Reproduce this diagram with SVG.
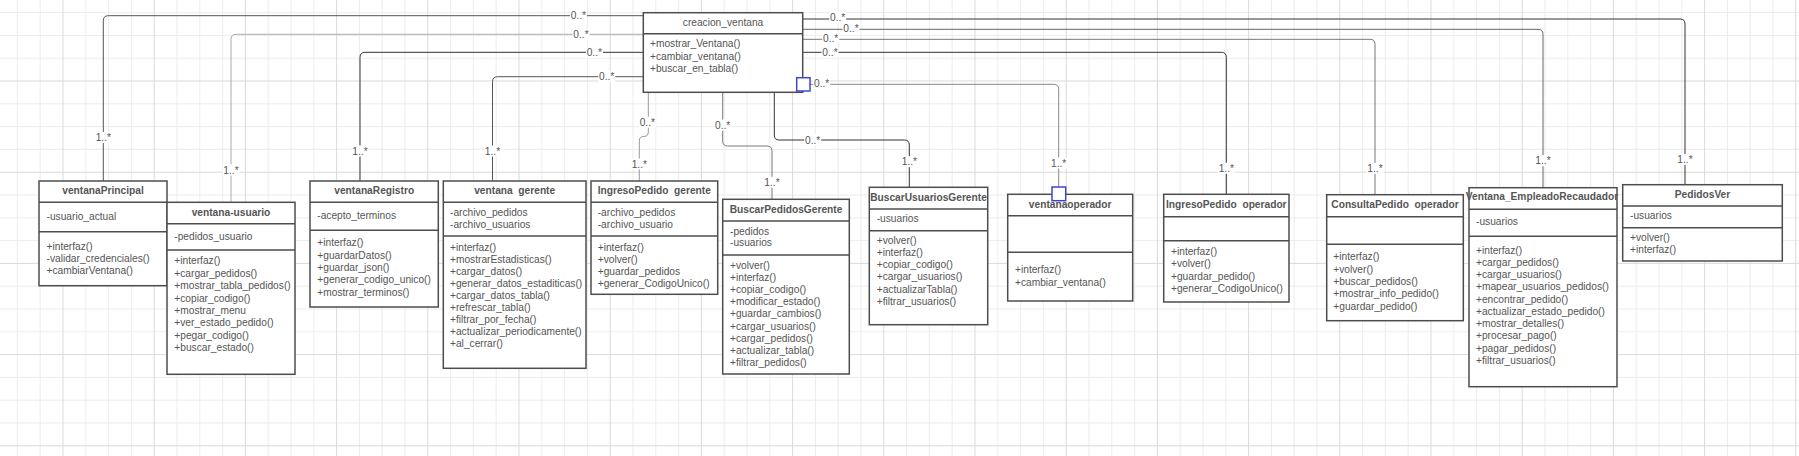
<svg xmlns="http://www.w3.org/2000/svg" width="1799" height="456" viewBox="0 0 1799 456">
<defs>
<pattern id="grid" x="62.5" y="80.5" width="91.2" height="91.2" patternUnits="userSpaceOnUse">
<path d="M23.3 0V91.2M46.1 0V91.2M68.9 0V91.2M0 23.3H91.2M0 46.1H91.2M0 68.9H91.2" stroke="#ececec" stroke-width="1" fill="none"/>
<path d="M0.5 0V91.2M0 0.5H91.2" stroke="#dadada" stroke-width="1" fill="none"/>
</pattern>
</defs>
<style>
.box{fill:#fff;stroke:#4d4d4d;stroke-width:1.5}
.sep{stroke:#4d4d4d;stroke-width:1.5;fill:none}
.t{font-family:"Liberation Sans",Arial,sans-serif;font-size:10.2px;fill:#555}
.b{font-weight:bold;text-anchor:middle}
.c{text-anchor:middle}
.ln{fill:none;stroke-width:1}
.lb{fill:#fff}
.sq{fill:#fff;stroke:#3c46cf;stroke-width:1.5}
</style>
<rect width="1799" height="456" fill="#fff"/>
<rect width="1799" height="456" fill="url(#grid)"/>

<g id="connectors">
<path class="ln" stroke="#555" d="M643.3,15.7 H108.3 Q103.3,15.7 103.3,20.7 V181"/>
<path class="ln" stroke="#aaa" d="M643.3,34.3 H236 Q231,34.3 231,39.3 V202.3"/>
<path class="ln" stroke="#333" d="M643.3,52.3 H365 Q360,52.3 360,57.3 V181"/>
<path class="ln" stroke="#555" d="M643.3,76.7 H497.5 Q492.5,76.7 492.5,81.7 V181"/>
<path class="ln" stroke="#333" d="M802.7,19 H1680 Q1685,19 1685,24 V184.7"/>
<path class="ln" stroke="#666" d="M802.7,29.3 H1538 Q1543,29.3 1543,34.3 V187.7"/>
<path class="ln" stroke="#777" d="M802.7,39.3 H1370 Q1375,39.3 1375,44.3 V194.7"/>
<path class="ln" stroke="#333" d="M802.7,52.3 H1221.3 Q1226.3,52.3 1226.3,57.3 V194.3"/>
<path class="ln" stroke="#888" d="M810,84.3 H1053.7 Q1058.7,84.3 1058.7,89.3 V186.7"/>
<path class="ln" stroke="#999" d="M648.3,92.3 V132 Q648.3,136.5 643.8,136.5 Q639.3,136.5 639.3,141 V181"/>
<path class="ln" stroke="#777" d="M722.7,92.3 V141 Q722.7,146 727.7,146 H767 Q772,146 772,151 V199.3"/>
<path class="ln" stroke="#333" d="M774.3,92.3 V135 Q774.3,140 779.3,140 H904.3 Q909.3,140 909.3,145 V187.3"/>
<g class="t c">
<rect class="lb" x="570" y="10" width="17" height="11"/><text x="578.3" y="19.3">0..*</text>
<rect class="lb" x="95" y="132" width="17" height="11"/><text x="103.3" y="141.1">1..*</text>
<rect class="lb" x="572.5" y="28.8" width="17" height="11"/><text x="581" y="37.9">0..*</text>
<rect class="lb" x="222.5" y="164.5" width="17" height="11"/><text x="231" y="173.6">1..*</text>
<rect class="lb" x="586" y="46.8" width="17" height="11"/><text x="594.3" y="55.9">0..*</text>
<rect class="lb" x="351.5" y="145.5" width="17" height="11"/><text x="360" y="154.6">1..*</text>
<rect class="lb" x="598.2" y="71.2" width="17" height="11"/><text x="606.7" y="80.3">0..*</text>
<rect class="lb" x="484" y="145.5" width="17" height="11"/><text x="492.5" y="154.6">1..*</text>
<rect class="lb" x="829.2" y="12" width="17" height="11"/><text x="837.7" y="21.1">0..*</text>
<rect class="lb" x="1676.5" y="154" width="17" height="11"/><text x="1685" y="163.1">1..*</text>
<rect class="lb" x="842.5" y="22.5" width="17" height="11"/><text x="851" y="31.6">0..*</text>
<rect class="lb" x="1534.5" y="155.2" width="17" height="11"/><text x="1543" y="164.3">1..*</text>
<rect class="lb" x="822.2" y="33" width="17" height="11"/><text x="830.7" y="42.1">0..*</text>
<rect class="lb" x="1366.5" y="162.8" width="17" height="11"/><text x="1375" y="171.9">1..*</text>
<rect class="lb" x="821.5" y="46.5" width="17" height="11"/><text x="830" y="55.6">0..*</text>
<rect class="lb" x="1217.8" y="162.8" width="17" height="11"/><text x="1226.3" y="171.9">1..*</text>
<rect class="lb" x="813.2" y="78" width="17" height="11"/><text x="821.7" y="87.1">0..*</text>
<rect class="lb" x="1050.2" y="157.5" width="17" height="11"/><text x="1058.7" y="166.6">1..*</text>
<rect class="lb" x="638.8" y="116.8" width="17" height="11"/><text x="647.3" y="125.9">0..*</text>
<rect class="lb" x="630.8" y="158.5" width="17" height="11"/><text x="639.3" y="167.6">1..*</text>
<rect class="lb" x="714.2" y="119.5" width="17" height="11"/><text x="722.7" y="128.6">0..*</text>
<rect class="lb" x="763.5" y="176.8" width="17" height="11"/><text x="772" y="185.9">1..*</text>
<rect class="lb" x="804.2" y="134.5" width="17" height="11"/><text x="812.7" y="143.6">0..*</text>
<rect class="lb" x="900.8" y="156.2" width="17" height="11"/><text x="909.3" y="165.3">1..*</text>
</g>
</g>

<g id="creacion_ventana">
<rect class="box" x="643.3" y="12.7" width="159.4" height="79.6"/>
<path class="sep" d="M643.3,33.7H802.7"/>
<text class="t c" x="723" y="26.3">creacion_ventana</text>
<text class="t" x="650"><tspan x="650" y="47.2">+mostrar_Ventana()</tspan><tspan x="650" y="59.8">+cambiar_ventana()</tspan><tspan x="650" y="72.4">+buscar_en_tabla()</tspan></text>
<rect class="sq" x="796.7" y="77.7" width="13.3" height="13.3"/>
</g>

<g id="ventanaPrincipal">
<rect class="box" x="39" y="181" width="128" height="104.7"/>
<path class="sep" d="M39,202.3H167M39,231.7H167"/>
<text class="t b" x="103" y="194.3">ventanaPrincipal</text>
<text class="t" x="46.5" y="219.5">-usuario_actual</text>
<text class="t"><tspan x="46.5" y="249.5">+interfaz()</tspan><tspan x="46.5" y="261.8">-validar_credenciales()</tspan><tspan x="46.5" y="274.1">+cambiarVentana()</tspan></text>
</g>

<g id="ventana-usuario">
<rect class="box" x="167" y="202.3" width="128" height="172"/>
<path class="sep" d="M167,223.7H295M167,250H295"/>
<text class="t b" x="231" y="216.3">ventana-usuario</text>
<text class="t" x="174.3" y="239.5">-pedidos_usuario</text>
<text class="t"><tspan x="174.3" y="264.2">+interfaz()</tspan><tspan x="174.3" y="276.6">+cargar_pedidos()</tspan><tspan x="174.3" y="289.1">+mostrar_tabla_pedidos()</tspan><tspan x="174.3" y="301.5">+copiar_codigo()</tspan><tspan x="174.3" y="313.9">+mostrar_menu</tspan><tspan x="174.3" y="326.4">+ver_estado_pedido()</tspan><tspan x="174.3" y="338.8">+pegar_codigo()</tspan><tspan x="174.3" y="351.2">+buscar_estado()</tspan></text>
</g>

<g id="ventanaRegistro">
<rect class="box" x="310" y="181" width="128.3" height="126"/>
<path class="sep" d="M310,202.3H438.3M310,230.3H438.3"/>
<text class="t b" x="374.2" y="194.3">ventanaRegistro</text>
<text class="t" x="317.3" y="218.8">-acepto_terminos</text>
<text class="t"><tspan x="317.3" y="246.2">+interfaz()</tspan><tspan x="317.3" y="258.6">+guardarDatos()</tspan><tspan x="317.3" y="271">+guardar_json()</tspan><tspan x="317.3" y="283.4">+generar_codigo_unico()</tspan><tspan x="317.3" y="295.8">+mostrar_terminos()</tspan></text>
</g>

<g id="ventana_gerente">
<rect class="box" x="443.3" y="181" width="142.7" height="187.3"/>
<path class="sep" d="M443.3,202.3H586M443.3,236H586"/>
<text class="t b" x="514.7" y="194.3" xml:space="preserve">ventana  gerente</text>
<text class="t"><tspan x="450" y="215.8">-archivo_pedidos</tspan><tspan x="450" y="227.8">-archivo_usuarios</tspan></text>
<text class="t"><tspan x="450" y="250.5">+interfaz()</tspan><tspan x="450" y="262.6">+mostrarEstadisticas()</tspan><tspan x="450" y="274.7">+cargar_datos()</tspan><tspan x="450" y="286.8">+generar_datos_estaditicas()</tspan><tspan x="450" y="298.9">+cargar_datos_tabla()</tspan><tspan x="450" y="311">+refrescar_tabla()</tspan><tspan x="450" y="323.1">+filtrar_por_fecha()</tspan><tspan x="450" y="335.2">+actualizar_periodicamente()</tspan><tspan x="450" y="347.3">+al_cerrar()</tspan></text>
</g>

<g id="IngresoPedido_gerente">
<rect class="box" x="591" y="181" width="126.7" height="113.3"/>
<path class="sep" d="M591,202.3H717.7M591,236H717.7"/>
<text class="t b" x="654.3" y="194.3" xml:space="preserve">IngresoPedido  gerente</text>
<text class="t"><tspan x="597.7" y="215.8">-archivo_pedidos</tspan><tspan x="597.7" y="227.8">-archivo_usuario</tspan></text>
<text class="t"><tspan x="597.7" y="250.5">+interfaz()</tspan><tspan x="597.7" y="262.6">+volver()</tspan><tspan x="597.7" y="274.7">+guardar_pedidos</tspan><tspan x="597.7" y="286.8">+generar_CodigoUnico()</tspan></text>
</g>

<g id="BuscarPedidosGerente">
<rect class="box" x="722.7" y="199.3" width="126.6" height="174.7"/>
<path class="sep" d="M722.7,221H849.3M722.7,255H849.3"/>
<text class="t b" x="786" y="212.8">BuscarPedidosGerente</text>
<text class="t"><tspan x="730" y="234.5">-pedidos</tspan><tspan x="730" y="246.2">-usuarios</tspan></text>
<text class="t"><tspan x="730" y="268.5">+volver()</tspan><tspan x="730" y="280.7">+interfaz()</tspan><tspan x="730" y="292.9">+copiar_codigo()</tspan><tspan x="730" y="305.1">+modificar_estado()</tspan><tspan x="730" y="317.3">+guardar_cambios()</tspan><tspan x="730" y="329.5">+cargar_usuarios()</tspan><tspan x="730" y="341.7">+cargar_pedidos()</tspan><tspan x="730" y="353.9">+actualizar_tabla()</tspan><tspan x="730" y="366.1">+filtrar_pedidos()</tspan></text>
</g>

<g id="BuscarUsuariosGerente">
<rect class="box" x="869.3" y="187.3" width="118.4" height="137.4"/>
<path class="sep" d="M869.3,209H987.7M869.3,230.7H987.7"/>
<text class="t b" x="928.5" y="200.8">BuscarUsuariosGerente</text>
<text class="t" x="876.7" y="222.2">-usuarios</text>
<text class="t"><tspan x="876.7" y="243.8">+volver()</tspan><tspan x="876.7" y="256">+interfaz()</tspan><tspan x="876.7" y="268.2">+copiar_codigo()</tspan><tspan x="876.7" y="280.4">+cargar_usuarios()</tspan><tspan x="876.7" y="292.6">+actualizarTabla()</tspan><tspan x="876.7" y="304.8">+filtrar_usuarios()</tspan></text>
</g>

<g id="ventanaoperador">
<rect class="box" x="1007.7" y="194.3" width="125" height="106.7"/>
<path class="sep" d="M1007.7,215.7H1132.7M1007.7,252.3H1132.7"/>
<text class="t b" x="1070.2" y="207.5">ventanaoperador</text>
<text class="t"><tspan x="1015" y="273.2">+interfaz()</tspan><tspan x="1015" y="285.5">+cambiar_ventana()</tspan></text>
<rect class="sq" x="1052" y="187" width="13.7" height="13.7"/>
</g>

<g id="IngresoPedido_operador">
<rect class="box" x="1163.7" y="194.3" width="125.3" height="107.7"/>
<path class="sep" d="M1163.7,216.7H1289M1163.7,240.7H1289"/>
<text class="t b" x="1226.3" y="207.8" xml:space="preserve">IngresoPedido  operador</text>
<text class="t"><tspan x="1171" y="254.5">+interfaz()</tspan><tspan x="1171" y="267">+volver()</tspan><tspan x="1171" y="279.6">+guardar_pedido()</tspan><tspan x="1171" y="292.2">+generar_CodigoUnico()</tspan></text>
</g>

<g id="ConsultaPedido_operador">
<rect class="box" x="1326.7" y="194.7" width="136.6" height="126"/>
<path class="sep" d="M1326.7,216.7H1463.3M1326.7,244.3H1463.3"/>
<text class="t b" x="1395" y="207.8" xml:space="preserve">ConsultaPedido  operador</text>
<text class="t"><tspan x="1333.3" y="260.2">+interfaz()</tspan><tspan x="1333.3" y="272.5">+volver()</tspan><tspan x="1333.3" y="284.9">+buscar_pedidos()</tspan><tspan x="1333.3" y="297.2">+mostrar_info_pedido()</tspan><tspan x="1333.3" y="309.5">+guardar_pedido()</tspan></text>
</g>

<g id="Ventana_EmpleadoRecaudador">
<rect class="box" x="1469" y="187.7" width="148" height="199"/>
<path class="sep" d="M1469,209.3H1617M1469,236.3H1617"/>
<text class="t b" x="1542" y="199.5">Ventana_EmpleadoRecaudador</text>
<text class="t" x="1476" y="225.2">-usuarios</text>
<text class="t"><tspan x="1476" y="253.5">+interfaz()</tspan><tspan x="1476" y="265.8">+cargar_pedidos()</tspan><tspan x="1476" y="278">+cargar_usuarios()</tspan><tspan x="1476" y="290.3">+mapear_usuarios_pedidos()</tspan><tspan x="1476" y="302.5">+encontrar_pedido()</tspan><tspan x="1476" y="314.8">+actualizar_estado_pedido()</tspan><tspan x="1476" y="327.1">+mostrar_detalles()</tspan><tspan x="1476" y="339.3">+procesar_pago()</tspan><tspan x="1476" y="351.6">+pagar_pedidos()</tspan><tspan x="1476" y="363.8">+filtrar_usuarios()</tspan></text>
</g>

<g id="PedidosVer">
<rect class="box" x="1622.7" y="184.7" width="159.6" height="76.3"/>
<path class="sep" d="M1622.7,206H1782.3M1622.7,227.7H1782.3"/>
<text class="t b" x="1702.5" y="197.8">PedidosVer</text>
<text class="t" x="1630" y="218.8">-usuarios</text>
<text class="t"><tspan x="1630" y="241.2">+volver()</tspan><tspan x="1630" y="253.2">+interfaz()</tspan></text>
</g>
</svg>
